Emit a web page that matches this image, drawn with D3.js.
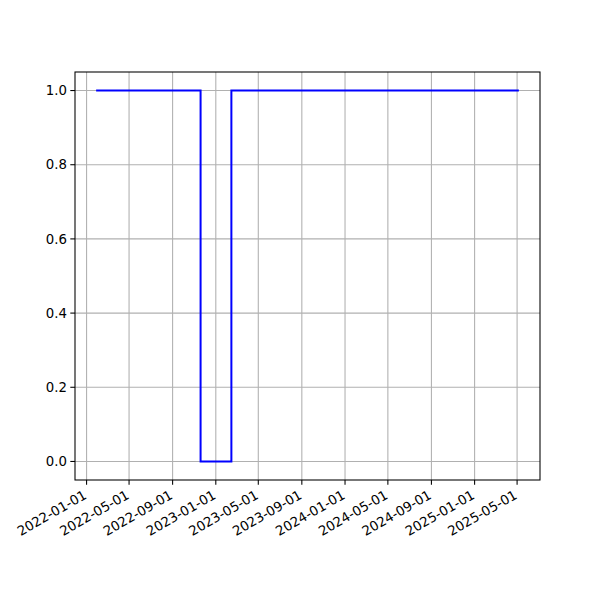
<!DOCTYPE html>
<html><head><meta charset="utf-8">
<script src="https://cdn.jsdelivr.net/npm/d3@7"></script>
<style>body{margin:0;background:#fff}</style>
</head><body>
<svg id="c" width="600" height="600"></svg>
<script>
const dates = ["2022-01-28","2022-11-19","2023-02-14","2025-05-06"];
const values = [1, 0, 1, 1];
const xTickLabels = ["2022-01-01","2022-05-01","2022-09-01","2023-01-01","2023-05-01","2023-09-01","2024-01-01","2024-05-01","2024-09-01","2025-01-01","2025-05-01"];
const yTicks = [0.0, 0.2, 0.4, 0.6, 0.8, 1.0];

const parse = d3.utcParse("%Y-%m-%d");
const data = dates.map((d,i)=>({t:parse(d), v:values[i]}));
const L=75, R=540, T=72, B=480;
const svg = d3.select("#c");
svg.append("rect").attr("width",600).attr("height",600).attr("fill","#fff");
const t0 = data[0].t, t1 = data[data.length-1].t;
const span = t1 - t0;
const x = d3.scaleUtc().domain([new Date(+t0 - span*0.05), new Date(+t1 + span*0.05)]).range([L,R]);
const y = d3.scaleLinear().domain([-0.05,1.05]).range([B,T]);
const font = "DejaVu Sans, sans-serif";
const xt = xTickLabels.map(parse);

const g = svg.append("g");
// grid
g.selectAll(".gx").data(xt).join("line").attr("x1",d=>x(d)).attr("x2",d=>x(d)).attr("y1",T).attr("y2",B)
  .attr("stroke","#b0b0b0").attr("stroke-width",1.07);
g.selectAll(".gy").data(yTicks).join("line").attr("x1",L).attr("x2",R).attr("y1",d=>y(d)).attr("y2",d=>y(d))
  .attr("stroke","#b0b0b0").attr("stroke-width",1.07);
// line
const line = d3.line().x(d=>x(d.t)).y(d=>y(d.v)).curve(d3.curveStepAfter);
g.append("path").datum(data).attr("d",line).attr("fill","none").attr("stroke","#0000ff").attr("stroke-width",2);
// frame
g.append("rect").attr("x",L).attr("y",T).attr("width",R-L).attr("height",B-T).attr("fill","none").attr("stroke","#000").attr("stroke-width",1.07);
// x ticks
g.selectAll(".tx").data(xt).join("line").attr("x1",d=>x(d)).attr("x2",d=>x(d)).attr("y1",B).attr("y2",B+4.7).attr("stroke","#000").attr("stroke-width",1.07);
g.selectAll(".lx").data(xt).join("text")
  .attr("transform",d=>`translate(${x(d)-4},${B+9}) rotate(-30)`)
  .attr("text-anchor","end").attr("dy","0.75em")
  .attr("font-family",font).attr("font-size","13.3px").attr("fill","#000")
  .text(d=>d3.utcFormat("%Y-%m-%d")(d));
// y ticks
g.selectAll(".ty").data(yTicks).join("line").attr("x1",L-4.7).attr("x2",L).attr("y1",d=>y(d)).attr("y2",d=>y(d)).attr("stroke","#000").attr("stroke-width",1.07);
g.selectAll(".ly").data(yTicks).join("text").attr("x",L-8).attr("y",d=>y(d)).attr("dy","0.35em")
  .attr("text-anchor","end").attr("font-family",font).attr("font-size","13.3px").attr("fill","#000")
  .text(d=>d.toFixed(1));
</script>
</body></html>
